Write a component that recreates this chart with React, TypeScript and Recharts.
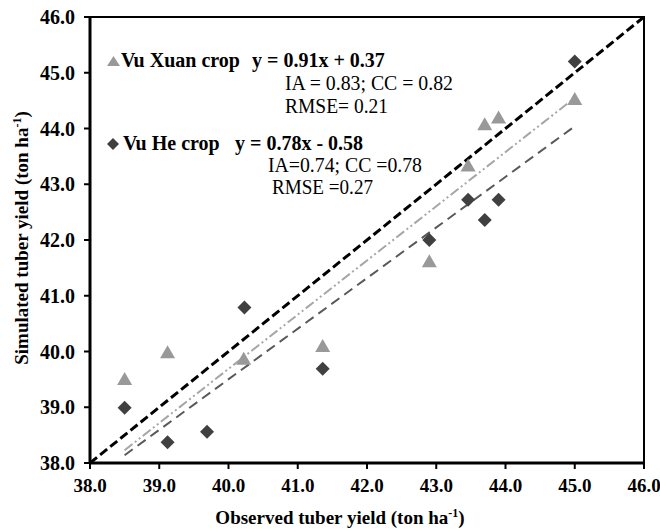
import { ScatterChart, Scatter, XAxis, YAxis, ReferenceLine, ReferenceArea, Label } from "recharts";

// observed vs simulated tuber yield (ton/ha)
const xuanObserved = [38.5, 39.12, 40.22, 41.36, 42.9, 43.46, 43.7, 43.9, 45.0];
const xuanSimulated = [39.49, 39.97, 39.85, 40.08, 41.6, 43.32, 44.06, 44.18, 44.51];
const heObserved = [38.5, 39.12, 39.69, 40.23, 41.36, 42.9, 43.46, 43.7, 43.9, 45.0];
const heSimulated = [38.99, 38.37, 38.56, 40.79, 39.69, 42.0, 42.72, 42.36, 42.72, 45.2];

// fitted lines (start/end) and the 1:1 line
const xuanFitX = [38.5, 45.0];
const xuanFitY = [38.23, 44.55];
const heFitX = [38.5, 45.0];
const heFitY = [38.14, 44.04];
const oneToOne = [38, 46];

const ticks = [38, 39, 40, 41, 42, 43, 44, 45, 46];

const xuanData = xuanObserved.map((x, i) => ({ x, y: xuanSimulated[i] }));
const heData = heObserved.map((x, i) => ({ x, y: heSimulated[i] }));

const FONT = "'Liberation Serif', 'Times New Roman', serif";
const XUAN_COLOR = "#999999";
const HE_COLOR = "#404040";

function Triangle(props: any) {
  const { cx, cy } = props;
  return <polygon points={`${cx},${cy - 8} ${cx + 7.5},${cy + 5} ${cx - 7.5},${cy + 5}`} fill={XUAN_COLOR} />;
}

function Diamond(props: any) {
  const { cx, cy } = props;
  return <polygon points={`${cx},${cy - 7} ${cx + 7},${cy} ${cx},${cy + 7} ${cx - 7},${cy}`} fill={HE_COLOR} />;
}

function YTick(props: any) {
  const { x, y, payload } = props;
  return (
    <text x={x - 7} y={y + 7} textAnchor="end" fontFamily={FONT} fontWeight="bold" fontSize={20} fill="#000">
      {payload.value.toFixed(1)}
    </text>
  );
}

function XTick(props: any) {
  const { x, y, payload } = props;
  return (
    <text x={x} y={y + 21} textAnchor="middle" fontFamily={FONT} fontWeight="bold" fontSize={19} fill="#000">
      {payload.value.toFixed(1)}
    </text>
  );
}

// regular legend line, stretched to the width it has in the original
function Stat({ x, y, w, children }: any) {
  return (
    <text x={x} y={y} textLength={w} lengthAdjust="spacingAndGlyphs" fontFamily={FONT} fontSize={20} fill="#000">
      {children}
    </text>
  );
}

export default function App() {
  return (
    <div style={{ position: "absolute", left: 0, top: 0, width: 660, height: 532, background: "#fff" }}>
      <ScatterChart width={660} height={532} margin={{ top: 17, right: 16, bottom: 0, left: 0 }}>
        <ReferenceArea x1={38} x2={46} y1={38} y2={46} fill="none" stroke="#000" strokeWidth={2} ifOverflow="visible" />
        <XAxis
          type="number"
          dataKey="x"
          domain={[38, 46]}
          ticks={ticks}
          height={69}
          tick={<XTick />}
          tickSize={6}
          axisLine={{ stroke: "#000", strokeWidth: 3 }}
          tickLine={{ stroke: "#000", strokeWidth: 2 }}
          allowDataOverflow
        >
          <Label
            content={() => (
              <text x={340} y={524} textAnchor="middle" fontFamily={FONT} fontWeight="bold" fontSize={19} fill="#000">
                Observed tuber yield (ton ha
                <tspan dy={-7} fontSize={12}>-1</tspan>
                <tspan dy={7}>)</tspan>
              </text>
            )}
          />
        </XAxis>
        <YAxis
          type="number"
          dataKey="y"
          domain={[38, 46]}
          ticks={ticks}
          width={90}
          tick={<YTick />}
          tickSize={6}
          axisLine={{ stroke: "#000", strokeWidth: 3 }}
          tickLine={{ stroke: "#000", strokeWidth: 2 }}
          allowDataOverflow
        >
          <Label
            content={() => (
              <text x={28} y={238} transform="rotate(-90 28 238)" textAnchor="middle" fontFamily={FONT} fontWeight="bold" fontSize={19} fill="#000">
                Simulated tuber yield (ton ha
                <tspan dy={-7} fontSize={12}>-1</tspan>
                <tspan dy={7}>)</tspan>
              </text>
            )}
          />
        </YAxis>
        <ReferenceLine
          segment={[{ x: oneToOne[0], y: oneToOne[0] }, { x: oneToOne[1], y: oneToOne[1] }]}
          stroke="#000"
          strokeWidth={3}
          strokeDasharray="9 4"
        />
        <ReferenceLine
          segment={[{ x: xuanFitX[0], y: xuanFitY[0] }, { x: xuanFitX[1], y: xuanFitY[1] }]}
          stroke="#a6a6a6"
          strokeWidth={2}
          strokeDasharray="10 3 2 3 2 3"
        />
        <ReferenceLine
          segment={[{ x: heFitX[0], y: heFitY[0] }, { x: heFitX[1], y: heFitY[1] }]}
          stroke="#595959"
          strokeWidth={2}
          strokeDasharray="10 6"
        />
        <Scatter name="Vu Xuan crop" data={xuanData} shape={<Triangle />} isAnimationActive={false} />
        <Scatter name="Vu He crop" data={heData} shape={<Diamond />} isAnimationActive={false} />
      </ScatterChart>
      <svg width={660} height={532} style={{ position: "absolute", left: 0, top: 0, pointerEvents: "none" }}>
        <polygon points="113.5,56 120,66 107,66" fill={XUAN_COLOR} />
        <text x={121} y={67} fontFamily={FONT} fontSize={20} fontWeight="bold" fill="#000">Vu Xuan crop</text>
        <text x={252} y={67} fontFamily={FONT} fontSize={20} fontWeight="bold" fill="#000">y = 0.91x + 0.37</text>
        <Stat x={285} y={90} w={168}>IA = 0.83; CC = 0.82</Stat>
        <Stat x={285} y={113} w={103}>RMSE= 0.21</Stat>
        <polygon points="113,138 119,144 113,150 107,144" fill={HE_COLOR} />
        <text x={123} y={150} fontFamily={FONT} fontSize={20} fontWeight="bold" fill="#000">Vu He crop</text>
        <text x={235} y={150} fontFamily={FONT} fontSize={20} fontWeight="bold" fill="#000">y = 0.78x - 0.58</text>
        <Stat x={268} y={172} w={154}>IA=0.74; CC =0.78</Stat>
        <Stat x={272} y={194} w={101}>RMSE =0.27</Stat>
      </svg>
    </div>
  );
}
